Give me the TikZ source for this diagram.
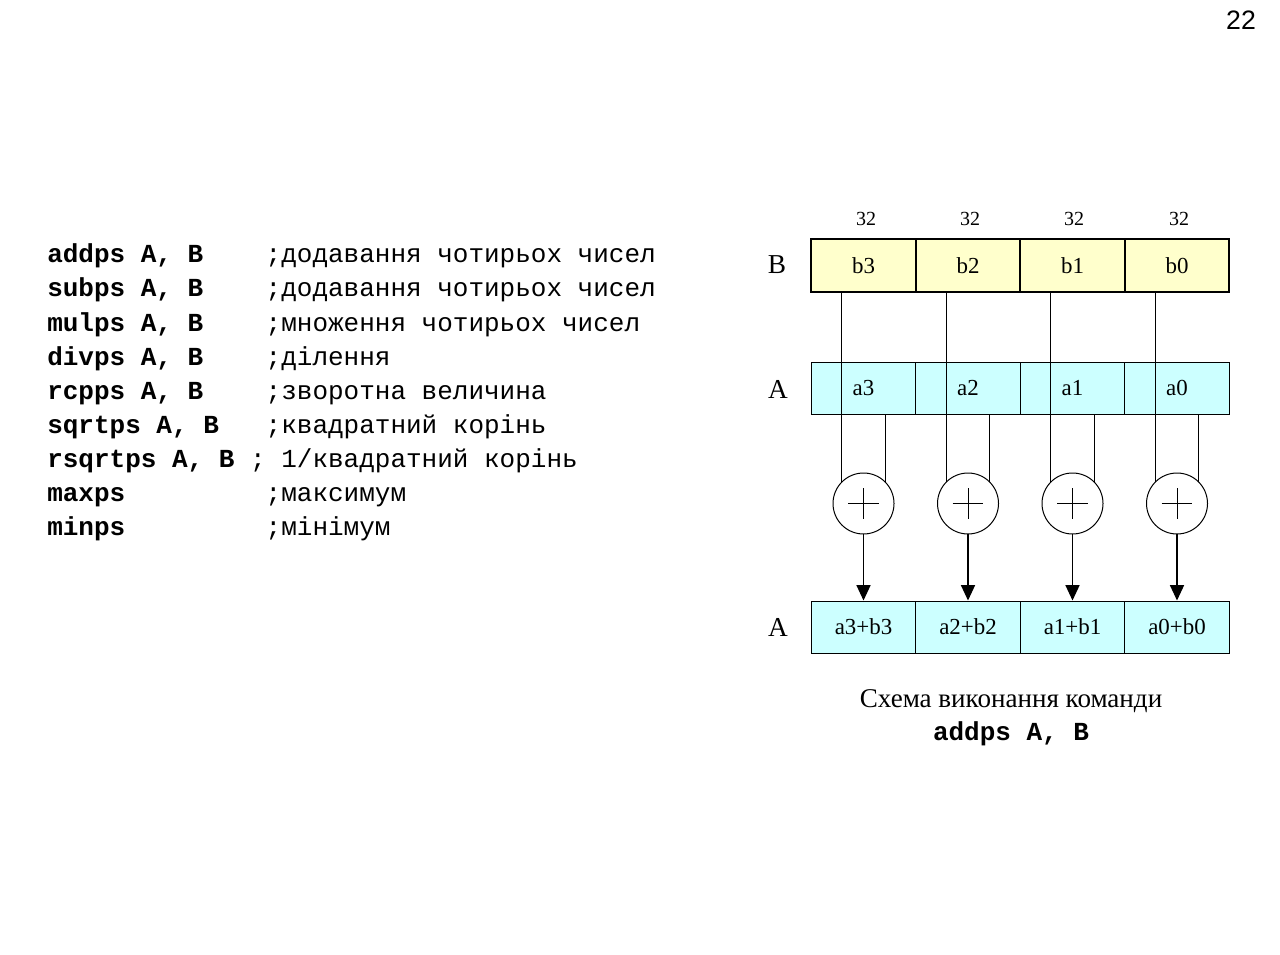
\documentclass[tikz,border=0pt]{standalone}
\usepackage{fontspec}
\setmainfont{Liberation Serif}
\setmonofont{Liberation Mono}
\newfontfamily\arialfont{Liberation Sans}
\usetikzlibrary{arrows.meta}
\definecolor{byellow}{HTML}{FFFFCC}
\definecolor{acyan}{HTML}{CCFFFF}
\begin{document}
\begin{tikzpicture}[x=0.75pt,y=-0.75pt,
  codeline/.style={anchor=base west,inner sep=0,font=\ttfamily\fontsize{19.5}{20}\selectfont},
  capcode/.style={inner sep=0,font=\ttfamily\bfseries\fontsize{19.5}{20}\selectfont},
  captext/.style={inner sep=0,font=\fontsize{20.3}{22}\selectfont},
  reglabel/.style={inner sep=0,font=\fontsize{20.5}{22}\selectfont},
  bits/.style={inner sep=0,font=\fontsize{15}{16}\selectfont},
  bcell/.style={draw,line width=1.8pt,fill=byellow,minimum width=78.4pt,minimum height=39.75pt,inner sep=0,font=\fontsize{17.2}{18}\selectfont},
  acell/.style={draw,line width=0.75pt,fill=acyan,minimum width=78.4pt,minimum height=39pt,inner sep=0,font=\fontsize{17.2}{18}\selectfont},
  adder/.style={draw,circle,fill=white,line width=0.75pt,minimum size=45.75pt,inner sep=0,outer sep=0},
  wire/.style={line width=0.75pt},
  flow/.style={line width=1pt,-{Triangle[length=11.5pt,width=10.5pt]}},
  pnum/.style={inner sep=0,font=\arialfont\fontsize{20}{22}\selectfont}
]
\useasboundingbox (0,0) rectangle (1280,955);

% page number
\node[pnum] (pn) at (1241,20) {22};

% code listing
\node[codeline] (l1) at (47,263) {\textbf{addps A, B}~~~~;додавання чотирьох чисел};
\node[codeline] (l2) at (47,297) {\textbf{subps A, B}~~~~;додавання чотирьох чисел};
\node[codeline] (l3) at (47,331) {\textbf{mulps A, B}~~~~;множення чотирьох чисел};
\node[codeline] (l4) at (47,365) {\textbf{divps A, B}~~~~;ділення};
\node[codeline] (l5) at (47,399) {\textbf{rcpps A, B}~~~~;зворотна величина};
\node[codeline] (l6) at (47,433) {\textbf{sqrtps A, B}~~~;квадратний корінь};
\node[codeline] (l7) at (47,467) {\textbf{rsqrtps A, B}~; 1/квадратний корінь};
\node[codeline] (l8) at (47,501) {\textbf{maxps}~~~~~~~~~;максимум};
\node[codeline] (l9) at (47,535) {\textbf{minps}~~~~~~~~~;мінімум};

% register labels
\node[reglabel] (lb) at (777,265) {B};
\node[reglabel] (la1) at (778,389) {A};
\node[reglabel] (la2) at (778,627) {A};

% bit widths
\node[bits] (w3) at (866,219) {32};
\node[bits] (w2) at (970,219) {32};
\node[bits] (w1) at (1074,219) {32};
\node[bits] (w0) at (1179,219) {32};

% B register
\node[bcell] (b3) at (863.5,265.5) {b3};
\node[bcell] (b2) at (968,265.5) {b2};
\node[bcell] (b1) at (1072.5,265.5) {b1};
\node[bcell] (b0) at (1177,265.5) {b0};

% A register
\node[acell] (a3) at (863.5,388) {a3};
\node[acell] (a2) at (968,388) {a2};
\node[acell] (a1) at (1072.5,388) {a1};
\node[acell] (a0) at (1177,388) {a0};

% result register
\node[acell] (r3) at (863.5,627) {a3+b3};
\node[acell] (r2) at (968,627) {a2+b2};
\node[acell] (r1) at (1072.5,627) {a1+b1};
\node[acell] (r0) at (1177,627) {a0+b0};

% adders
\foreach \i/\x in {3/863.5,2/968,1/1072.5,0/1177}{
  \node[adder] (p\i) at (\x,503.5) {};
  \draw[wire] ([xshift=-11.5pt]p\i.center) -- ([xshift=11.5pt]p\i.center);
  \draw[wire] ([yshift=-11.5pt]p\i.center) -- ([yshift=11.5pt]p\i.center);
  \draw[wire] (p\i.136 |- b\i.south) -- (p\i.136);
  \draw[wire] (p\i.44 |- a\i.south) -- (p\i.44);
  \draw[flow] (p\i.south) -- (r\i.north);
}

% caption
\node[captext] (cap1) at (1011,701) {Схема виконання команди};
\node[capcode] (cap2) at (1011,734) {addps A, B};
\end{tikzpicture}
\end{document}
